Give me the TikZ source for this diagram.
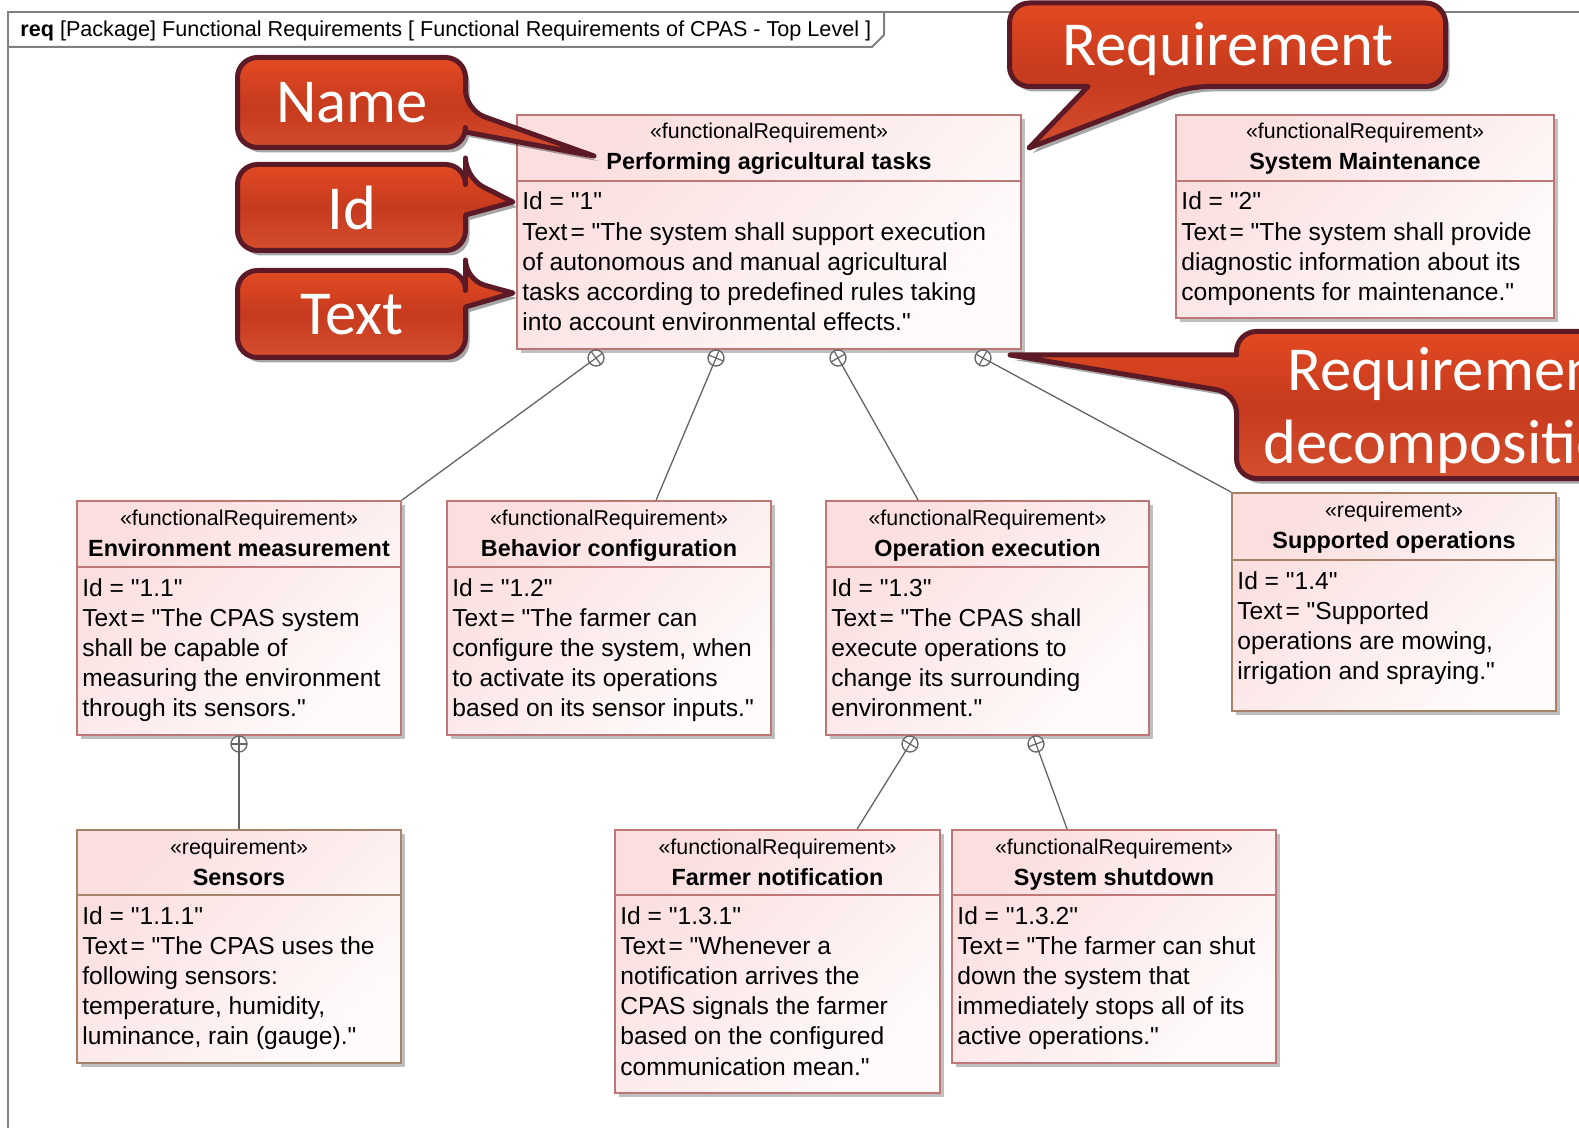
\documentclass[tikz,border=0pt]{standalone}
\usepackage{fontspec}
\newfontfamily\arial{Liberation Sans}
\newfontfamily\callfont{Carlito}
\usetikzlibrary{fit,shadows,calc}
\definecolor{frcol}{RGB}{190,118,118}
\definecolor{rqcol}{RGB}{165,130,104}
\definecolor{boxA}{RGB}{251,222,222}
\definecolor{boxB}{RGB}{255,251,251}
\definecolor{calA}{RGB}{226,74,34}
\definecolor{calM}{RGB}{198,58,30}
\definecolor{calB}{RGB}{214,78,46}
\definecolor{calBd}{RGB}{92,26,38}
\definecolor{framecol}{RGB}{128,128,128}
\definecolor{linkcol}{RGB}{100,100,100}
\newcommand\reqbox[9]{%
  \node[box, #7, fit={(#2,#3)(#4,#5)}] (#1) {};
  \draw[sepline, #7] (#2,#6) -- (#4,#6);
  \node[stereo] (#1-st) at ({(#2+#4)/2},#3+24) {«#8»};
  \node[title] (#1-ti) at ({(#2+#4)/2},#3+55) {#9};
}
\newcommand\reqbody[4]{%
  \foreach \t [count=\i from 0] in {#4} {
    \node[bodytxt] (#1-l\i) at (#2,#3+30.2*\i) {\t};
  }
}
\newcommand\TX{Text\kern1.5pt= }
\newcommand\contain[4]{%
  \node[contain] (#1) at (#2,#3) {};
  \draw[crossl] ($(#1.center)+(#4:4pt)$) -- ($(#1.center)+(#4+180:4pt)$)
                ($(#1.center)+(#4+90:4pt)$) -- ($(#1.center)+(#4+270:4pt)$);
}
\begin{document}
\begin{tikzpicture}[x=0.5pt,y=-0.5pt,
  box/.style={rectangle, inner sep=0pt, line width=0.9pt, top color=boxA, bottom color=boxB, shading angle=45,
    drop shadow={shadow xshift=2pt, shadow yshift=-2pt, fill=black, opacity=0.25}},
  frc/.style={draw=frcol},
  rqc/.style={draw=rqcol},
  sepline/.style={line width=0.9pt},
  stereo/.style={anchor=base, inner sep=0pt, font=\arial\fontsize{10.7}{12}\selectfont},
  title/.style={anchor=base, inner sep=0pt, font=\arial\fontsize{11.7}{14}\selectfont\bfseries},
  bodytxt/.style={anchor=base west, inner sep=0pt, font=\arial\fontsize{12.3}{15}\selectfont},
  link/.style={draw=linkcol, line width=0.65pt},
  contain/.style={circle, draw=linkcol, line width=0.65pt, fill=white, minimum size=8pt, inner sep=0pt},
  crossl/.style={draw=linkcol, line width=0.6pt},
  callout/.style={draw=calBd, line width=2.5pt, line join=round, top color=calA, bottom color=calB, middle color=calM,
    drop shadow={shadow xshift=2pt, shadow yshift=-2.5pt, opacity=0.35, fill=black}},
  calltext/.style={anchor=base, inner sep=0pt, text=white, font=\callfont\fontsize{31.3}{36}\selectfont},
  frame/.style={draw=framecol, line width=1pt},
  hdr/.style={anchor=base west, inner sep=0pt, font=\arial\fontsize{10.8}{12}\selectfont}
]
\useasboundingbox (0,0) rectangle (1579,1128);
\clip (0,0) rectangle (1579,1128);
\fill[white] (0,0) rectangle (1579,1128);
% frame
\draw[frame] (8,1140) -- (8,12) -- (1590,12);
\draw[frame] (8,47) -- (872,47) -- (884,35) -- (884,12);
\node[hdr] (header) at (20,37) {\textbf{req} [Package] Functional Requirements [ Functional Requirements of CPAS - Top Level ]};
% boxes
\reqbox{main}{517}{115}{1021}{349}{181}{frc}{functionalRequirement}{Performing agricultural tasks}
\reqbody{main}{522}{210}{{Id = "1"},{\TX"The system shall support execution},{of autonomous and manual agricultural},{tasks according to predefined rules taking},{into account environmental effects."}}
\reqbox{sysm}{1176}{115}{1554}{318}{181}{frc}{functionalRequirement}{System Maintenance}
\reqbody{sysm}{1181}{210}{{Id = "2"},{\TX"The system shall provide},{diagnostic information about its},{components for maintenance."}}
\reqbox{env}{77}{501}{401}{735}{567}{frc}{functionalRequirement}{Environment measurement}
\reqbody{env}{82}{596}{{Id = "1.1"},{\TX"The CPAS system},{shall be capable of},{measuring the environment},{through its sensors."}}
\reqbox{beh}{447}{501}{771}{735}{567}{frc}{functionalRequirement}{Behavior configuration}
\reqbody{beh}{452}{596}{{Id = "1.2"},{\TX"The farmer can},{configure the system, when},{to activate its operations},{based on its sensor inputs."}}
\reqbox{op}{826}{501}{1149}{735}{567}{frc}{functionalRequirement}{Operation execution}
\reqbody{op}{831}{596}{{Id = "1.3"},{\TX"The CPAS shall},{execute operations to},{change its surrounding},{environment."}}
\reqbox{sup}{1232}{493}{1556}{711}{560}{rqc}{requirement}{Supported operations}
\reqbody{sup}{1237}{589}{{Id = "1.4"},{\TX"Supported},{operations are mowing,},{irrigation and spraying."}}
\reqbox{sen}{77}{830}{401}{1063}{895}{rqc}{requirement}{Sensors}
\reqbody{sen}{82}{924}{{Id = "1.1.1"},{\TX"The CPAS uses the},{following sensors:},{temperature, humidity,},{luminance, rain (gauge)."}}
\reqbox{farm}{615}{830}{940}{1093}{895}{frc}{functionalRequirement}{Farmer notification}
\reqbody{farm}{620}{924}{{Id = "1.3.1"},{\TX"Whenever a},{notification arrives the},{CPAS signals the farmer},{based on the configured},{communication mean."}}
\reqbox{shut}{952}{830}{1276}{1063}{895}{frc}{functionalRequirement}{System shutdown}
\reqbody{shut}{957}{924}{{Id = "1.3.2"},{\TX"The farmer can shut},{down the system that},{immediately stops all of its},{active operations."}}
% containment connectors
\draw[link] (596,358) -- (env.north east);
\draw[link] (716,358) -- ($(beh.north west)+(210,0)$);
\draw[link] (838,358) -- ($(op.north west)+(93,0)$);
\draw[link] (983,358) -- (sup.north west);
\draw[link] (239,744) -- (sen.north);
\draw[link] (910,744) -- ($(farm.north west)+(243,0)$);
\draw[link] (1036,744) -- ($(shut.north west)+(116,0)$);
\contain{c1}{596}{358}{36.6}
\contain{c2}{716}{358}{67.9}
\contain{c3}{838}{358}{29.2}
\contain{c4}{983}{358}{61.2}
\contain{c5}{239}{744}{0}
\contain{c6}{910}{744}{59.4}
\contain{c7}{1036}{744}{20}
% callouts
\path[callout] (351,57.5) [rounded corners=10pt] -- (465.5,57.5) -- (465.5,110) [sharp corners] -- (594,156) -- (465.5,132) [rounded corners=10pt] -- (465.5,147.5) -- (237.5,147.5) -- (237.5,57.5) -- cycle;
\node[calltext] (tName) at (352,123) {Name};
\path[callout] (351,164.5) [rounded corners=10pt] -- (465.5,164.5) -- (465.5,178) [sharp corners] -- (513,202) -- (465.5,215) [rounded corners=10pt] -- (465.5,250.5) -- (237.5,250.5) -- (237.5,164.5) -- cycle;
\node[calltext] (tId) at (352,230) {Id};
\path[callout] (351,270.5) [rounded corners=10pt] -- (465.5,270.5) -- (465.5,280) [sharp corners] -- (513,293) -- (465.5,307) [rounded corners=10pt] -- (465.5,357.5) -- (237.5,357.5) -- (237.5,270.5) -- cycle;
\node[calltext] (tText) at (352,335) {Text};
\path[callout] (1200,3) [rounded corners=10pt] -- (1445.5,3) -- (1445.5,86.5) -- (1188,86.5) [sharp corners] -- (1029,148) -- (1088,86.5) [rounded corners=10pt] -- (1009.5,86.5) -- (1009.5,3) -- cycle;
\node[calltext] (tReq) at (1228,66) {Requirement};
\path[callout] (1400,331.5) [rounded corners=10pt] -- (1750,331.5) -- (1750,478.5) -- (1236.5,478.5) -- (1236.5,393) [sharp corners] -- (1010,355) -- (1236.5,355) [rounded corners=10pt] -- (1236.5,331.5) -- cycle;
\node[calltext] (tDec1) at (1453,391) {Requirement};
\node[calltext] (tDec2) at (1453,463) {decomposition};
\end{tikzpicture}
\end{document}
